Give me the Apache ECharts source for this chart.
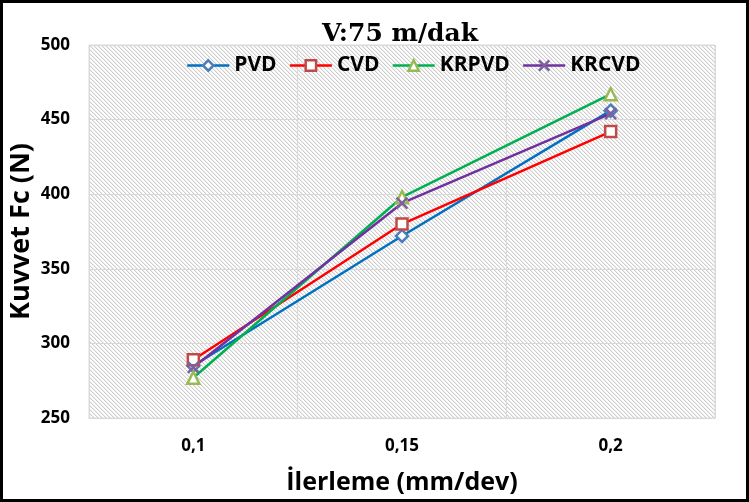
<!DOCTYPE html>
<html>
<head>
<meta charset="utf-8">
<script src="https://cdn.jsdelivr.net/npm/echarts@6/dist/echarts.min.js"></script>
<style>
  html, body { margin: 0; padding: 0; background: #fff; }
  #chart { width: 749px; height: 502px; }
</style>
</head>
<body>
<div id="chart"></div>
<script>
const categories = ['0,1', '0,15', '0,2'];
const seriesNames = ['PVD', 'CVD', 'KRPVD', 'KRCVD'];
const pvd   = [285, 372, 456];
const cvd   = [289, 380, 442];
const krpvd = [277, 398, 467];
const krcvd = [284, 394, 454];
const yTicks = [250, 300, 350, 400, 450, 500];

// hatch pattern for the plot area
const tile = document.createElement('canvas');
tile.width = 4; tile.height = 4;
const tctx = tile.getContext('2d');
const img = tctx.createImageData(4, 4);
for (let y = 0; y < 4; y++) {
  for (let x = 0; x < 4; x++) {
    const i = (y * 4 + x) * 4;
    const d = ((x - y) % 4 + 4) % 4;
    const v = d === 0 ? 205 : (d === 1 ? 236 : 255);
    img.data[i] = v; img.data[i + 1] = v; img.data[i + 2] = v; img.data[i + 3] = 255;
  }
}
tctx.putImageData(img, 0, 0);

const font = 'Open Sans';
const xPath = 'path://M0,0 L10,10 M10,0 L0,10';

function mk(name, data, lineColor, markColor, symbol, size) {
  return {
    name: name,
    type: 'line',
    data: data,
    symbol: symbol,
    symbolSize: size,
    showAllSymbol: true,
    lineStyle: { color: lineColor, width: 2.5 },
    itemStyle: {
      color: symbol === xPath ? markColor : '#ffffff',
      borderColor: markColor,
      borderWidth: 2.5
    },
    emphasis: { disabled: true },
    animation: false
  };
}

const chart = echarts.init(document.getElementById('chart'), null, { renderer: 'canvas' });
chart.setOption({
  animation: false,
  backgroundColor: '#ffffff',
  title: {
    text: 'V:75 m/dak',
    left: 395,
    top: 17,
    textAlign: 'center',
    textStyle: { fontFamily: 'DejaVu Serif', fontWeight: 'bold', fontSize: 25, color: '#000' }
  },
  legend: {
    data: seriesNames,
    left: 181,
    top: 50,
    itemWidth: 42,
    itemHeight: 13,
    itemGap: 12,
    lineStyle: { width: 2.5 },
    itemStyle: { borderWidth: 2.5 },
    textStyle: { fontFamily: font, fontWeight: 'bold', fontSize: 21, color: '#000' }
  },
  grid: {
    left: 89,
    top: 45,
    width: 626,
    height: 373,
    show: true,
    outerBoundsMode: 'none',
    backgroundColor: { image: tile, repeat: 'repeat' },
    borderColor: '#d9d9d9',
    borderWidth: 1,
    containLabel: false
  },
  xAxis: {
    type: 'category',
    data: categories,
    boundaryGap: true,
    name: 'İlerleme (mm/dev)',
    nameLocation: 'middle',
    nameGap: 52,
    nameTextStyle: { fontFamily: font, fontWeight: 'bold', fontSize: 25, color: '#000' },
    axisLine: { show: true, lineStyle: { color: '#d9d9d9', width: 1 } },
    axisTick: { show: false },
    axisLabel: { fontFamily: font, fontWeight: 'bold', fontSize: 17, color: '#000', margin: 20 },
    splitLine: { show: true, lineStyle: { color: '#d9d9d9', width: 1 } }
  },
  yAxis: {
    type: 'value',
    min: yTicks[0],
    max: yTicks[yTicks.length - 1],
    interval: 50,
    name: 'Kuvvet Fc (N)',
    nameLocation: 'middle',
    nameGap: 54,
    nameMoveOverlap: false,
    nameTextStyle: { fontFamily: font, fontWeight: 'bold', fontSize: 27, color: '#000' },
    axisLine: { show: false },
    axisTick: { show: false },
    axisLabel: { fontFamily: font, fontWeight: 'bold', fontSize: 17, color: '#000', margin: 19 },
    splitLine: { show: true, lineStyle: { color: '#d9d9d9', width: 1 } }
  },
  series: [
    mk('PVD', pvd, '#0070c0', '#4a7ebb', 'diamond', 12),
    mk('CVD', cvd, '#ff0000', '#be4b48', 'rect', 11),
    mk('KRPVD', krpvd, '#00b050', '#98b954', 'triangle', 12),
    mk('KRCVD', krcvd, '#7030a0', '#7d60a0', xPath, 11)
  ],
  graphic: [{
    type: 'rect',
    silent: true,
    z: 100,
    shape: { x: 1.5, y: 1.5, width: 746, height: 499 },
    style: { fill: 'none', stroke: '#000', lineWidth: 3 }
  }]
});
</script>
</body>
</html>
